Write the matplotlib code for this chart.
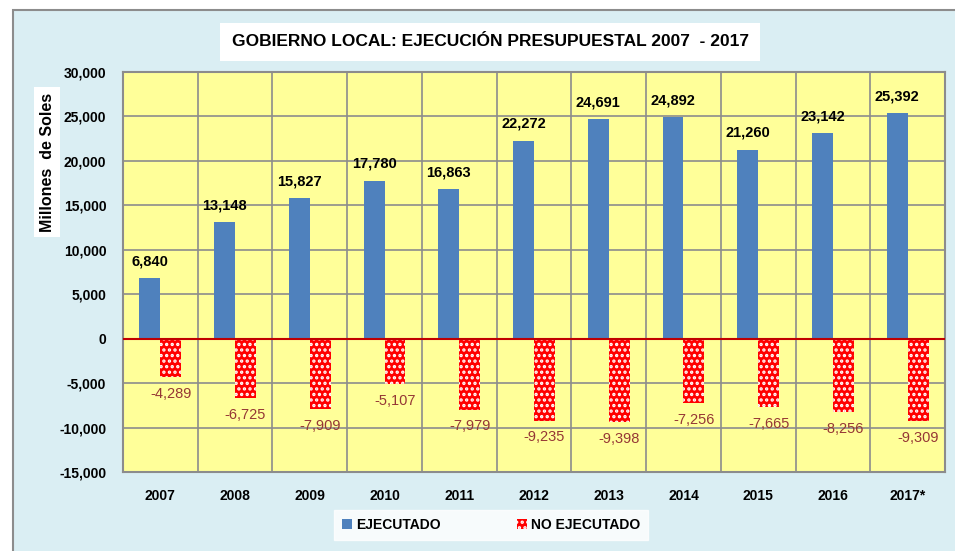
import numpy as np
import matplotlib
matplotlib.use("Agg")
import matplotlib.pyplot as plt
from matplotlib.patches import Rectangle

plt.rcParams['font.family'] = ['Liberation Sans Narrow', 'DejaVu Sans Condensed', 'Liberation Sans', 'DejaVu Sans']
plt.rcParams['hatch.linewidth'] = 1.6

years = ["2007", "2008", "2009", "2010", "2011", "2012", "2013", "2014", "2015", "2016", "2017*"]
ejecutado = [6840, 13148, 15827, 17780, 16863, 22272, 24691, 24892, 21260, 23142, 25392]
no_ejecutado = [-4289, -6725, -7909, -5107, -7979, -9235, -9398, -7256, -7665, -8256, -9309]
yticks = [-15000, -10000, -5000, 0, 5000, 10000, 15000, 20000, 25000, 30000]

fig = plt.figure(figsize=(9.55, 5.51), dpi=100)
fig.patch.set_facecolor("white")

# fondo celeste con borde gris
bg = Rectangle((13 / 955, -0.01), 1.0, 1 - 10 / 551 + 0.01, transform=fig.transFigure,
               facecolor="#DAEEF3", edgecolor="#8C8C8C", linewidth=1.5, zorder=-5)
fig.patches.append(bg)

ax = fig.add_axes([123 / 955, 79 / 551, 822 / 955, 400 / 551])
ax.set_zorder(2)
ax.set_facecolor("#FFFF99")

x = np.arange(len(years))
w = 0.28
ax.bar(x - w / 2, ejecutado, w, color="#4F81BD", zorder=3, label="EJECUTADO")
ax.bar(x + w / 2, no_ejecutado, w, color="#FF0000", edgecolor="white", hatch="...",
       linewidth=0, zorder=3, label="NO EJECUTADO")

for i in range(len(years)):
    ax.annotate(f"{ejecutado[i]:,}", (x[i] - w / 2, ejecutado[i]), xytext=(0, 7),
                textcoords="offset points", ha="center", va="bottom",
                fontsize=10.5, fontweight="bold", color="black")
    ax.annotate(f"{no_ejecutado[i]:,}", (x[i] + w / 2, no_ejecutado[i]), xytext=(0, -7),
                textcoords="offset points", ha="center", va="top",
                fontsize=10.5, color="#953735")

ax.set_xlim(-0.5, len(years) - 0.5)
ax.set_ylim(-15000, 30000)
ax.set_yticks(yticks)
ax.set_yticklabels([f"{v:,}" for v in yticks], fontsize=10, fontweight="bold")
ax.set_xticks(x)
ax.set_xticklabels(years, fontsize=10, fontweight="bold")
ax.set_xticks(np.arange(len(years) + 1) - 0.5, minor=True)
ax.tick_params(axis="both", which="both", length=0)
ax.tick_params(axis="x", pad=12)
ax.tick_params(axis="y", pad=12)
ax.grid(True, axis="y", color="#8C8C8C", linewidth=1.2, zorder=1)
ax.grid(True, axis="x", which="minor", color="#8C8C8C", linewidth=1.2, zorder=1)
ax.grid(False, axis="x", which="major")
ax.set_axisbelow(True)
ax.axhline(0, color="#C00000", linewidth=1.5, zorder=4)
for s in ax.spines.values():
    s.set_color("#8C8C8C")
    s.set_linewidth(1.5)

fig.text(490 / 955, 1 - 42 / 551, "GOBIERNO LOCAL: EJECUCIÓN PRESUPUESTAL 2007  - 2017",
         ha="center", va="center", fontsize=12.5, fontweight="bold",
         bbox=dict(facecolor="white", edgecolor="none", pad=8))

fig.text(47 / 955, 1 - 162 / 551, "Millones  de Soles", rotation=90, ha="center", va="center",
         fontsize=11.5, fontweight="bold",
         bbox=dict(facecolor="white", edgecolor="none", pad=4))

leg = ax.legend(loc="center", bbox_to_anchor=(491 / 955, 1 - 525 / 551), bbox_transform=fig.transFigure,
                ncol=2, frameon=True, fancybox=False, fontsize=10, handlelength=0.7,
                handleheight=0.7, handletextpad=0.3, columnspacing=5.5, borderpad=0.6,
                borderaxespad=0)
leg.get_frame().set_edgecolor("white")
leg.get_frame().set_facecolor("white")
for t in leg.get_texts():
    t.set_fontweight("bold")

fig.savefig("out.png", dpi=100, facecolor=fig.get_facecolor())
